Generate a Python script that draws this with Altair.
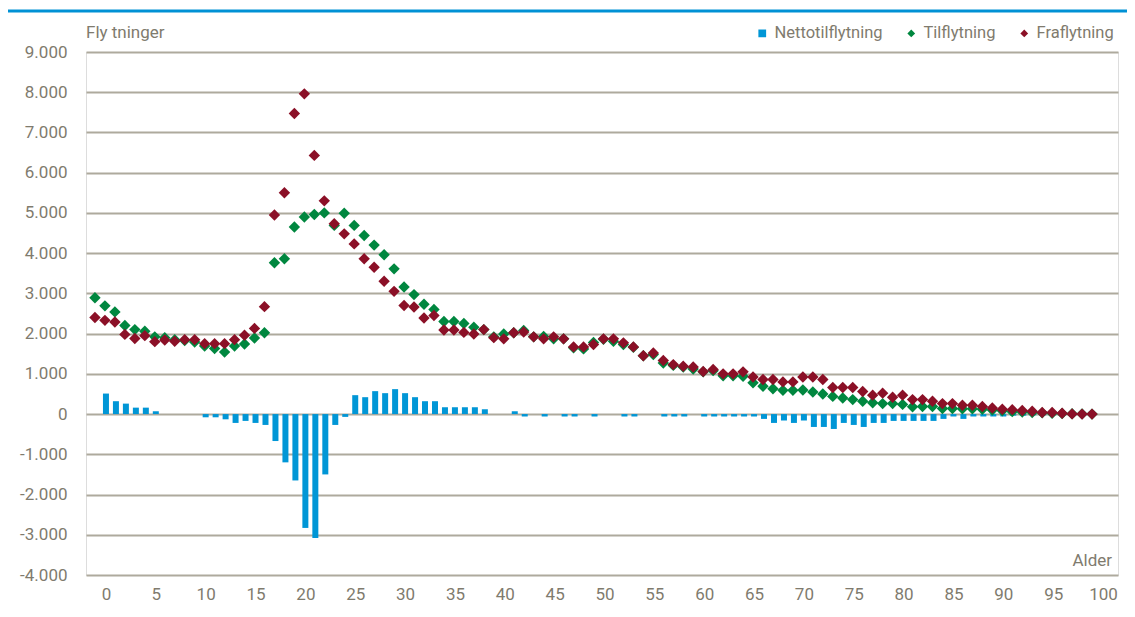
import altair as alt
import pandas as pd

ages = list(range(101))

netto = [510, 320, 260, 160, 160, 70, 0, 0, 0, 0,
         -80, -80, -130, -220, -170, -220, -270, -670, -1200, -1650,
         -2830, -3080, -1500, -270, -70, 470, 420, 570, 520, 620,
         520, 420, 320, 320, 170, 170, 170, 170, 120, 0,
         0, 70, -60, 0, -60, 0, -60, -60, 0, -60,
         0, 0, -60, -60, 0, 0, -60, -60, -60, 0,
         -60, -60, -60, -60, -60, -60, -120, -220, -160, -220,
         -160, -320, -320, -370, -220, -270, -320, -220, -220, -170,
         -170, -170, -170, -170, -120, -60, -120, -60, -60, -60,
         -60, -40, -40, -30, -30, -20, -20, -10, -10, -5,
         0]

til = [2890, 2690, 2540, 2200, 2100, 2060, 1920, 1900, 1850, 1830,
       1790, 1690, 1630, 1540, 1690, 1740, 1890, 2020, 3760, 3860,
       4650, 4900, 4960, 5000, 4690, 4990, 4690, 4440, 4200, 3960,
       3610, 3160, 2970, 2730, 2600, 2300, 2300, 2250, 2160, 2100,
       1920, 1990, 2020, 2080, 1920, 1930, 1870, 1870, 1650, 1620,
       1780, 1860, 1810, 1730, 1660, 1450, 1480, 1270, 1210, 1170,
       1120, 1050, 1080, 950, 950, 940, 780, 690, 630, 590,
       590, 600, 550, 500, 440, 400, 360, 320, 280, 260,
       260, 240, 180, 190, 190, 140, 140, 130, 130, 120,
       100, 80, 60, 50, 40, 30, 20, 15, 10, 5,
       0]

fra = [2400, 2330, 2290, 1980, 1880, 1950, 1800, 1840, 1810, 1850,
       1850, 1750, 1750, 1750, 1850, 1960, 2130, 2670, 4950, 5500,
       7470, 7960, 6430, 5300, 4730, 4480, 4230, 3860, 3650, 3300,
       3050, 2700, 2660, 2390, 2450, 2090, 2090, 2030, 1990, 2100,
       1900, 1870, 2020, 2040, 1920, 1870, 1920, 1870, 1670, 1670,
       1730, 1870, 1870, 1770, 1670, 1450, 1520, 1330, 1230, 1190,
       1170, 1060, 1110, 1000, 1000, 1050, 920, 860, 860, 800,
       800, 920, 920, 860, 660, 660, 660, 560, 470, 520,
       420, 470, 360, 360, 320, 260, 260, 220, 220, 190,
       150, 120, 110, 90, 70, 40, 40, 20, 5, 0,
       0]

series_names = ["Nettotilflytning", "Tilflytning", "Fraflytning"]
series_colors = ["#0096D6", "#00873F", "#8B1027"]
series_shapes = ["square", "diamond", "diamond"]
y_ticks = list(range(-4000, 9001, 1000))
x_ticks = list(range(0, 101, 5))

df = pd.DataFrame({
    "Alder": ages * 3,
    "Serie": [series_names[0]] * len(ages) + [series_names[1]] * len(ages) + [series_names[2]] * len(ages),
    "Verdi": netto + til + fra,
})

FONT = "Roboto, Liberation Sans, sans-serif"
GREY = "#7F7B6E"
GRID = "#AEAA9D"
FS = 17

x_enc = alt.X(
    "Alder:Q",
    scale=alt.Scale(domain=[-1.5, 101], nice=False, zero=False),
    axis=alt.Axis(values=x_ticks, title=None, grid=False, domain=False, ticks=False,
                  labelPadding=11, labelFontSize=FS, labelColor=GREY, labelFont=FONT,
                  labelFlush=False),
)
y_enc = alt.Y(
    "Verdi:Q",
    scale=alt.Scale(domain=[-4000, 9000], nice=False),
    axis=alt.Axis(values=y_ticks, title=None, domain=False, ticks=False, grid=True,
                  gridColor=GRID, gridWidth=2, labelPadding=19, labelFontSize=FS,
                  labelColor=GREY, labelFont=FONT,
                  labelExpr="(datum.value < 0 ? '-' : '') + replace(format(abs(datum.value), ','), ',', '.')"),
)

leg = alt.Legend(orient="none", legendX=668, legendY=-27, direction="horizontal",
                 title=None, labelFont=FONT, labelFontSize=16.5, labelColor=GREY,
                 symbolSize=60, symbolStrokeWidth=0, labelOffset=4, columnPadding=20)

color_enc = alt.Color("Serie:N", scale=alt.Scale(domain=series_names, range=series_colors), legend=leg)
shape_enc = alt.Shape("Serie:N", scale=alt.Scale(domain=series_names, range=series_shapes), legend=leg)

base = alt.Chart(df)

bars = base.transform_filter(alt.datum.Serie == series_names[0]).mark_bar(size=6).encode(
    x=x_enc, y=y_enc, color=color_enc, shape=shape_enc
)

points = base.transform_filter(alt.datum.Serie != series_names[0]).mark_point(
    filled=True, size=130, opacity=1, xOffset=-11, strokeWidth=0
).encode(x=x_enc, y=y_enc, color=color_enc, shape=shape_enc)

top_line = alt.Chart(pd.DataFrame({"k": [0]})).mark_rule(color="#0091D5", strokeWidth=3).encode(
    x=alt.value(-81), x2=alt.value(1041), y=alt.value(-41)
)

y_title = alt.Chart(pd.DataFrame({"t": ["Fly tninger"]})).mark_text(
    align="left", baseline="middle", font=FONT, fontSize=FS, color=GREY
).encode(text="t:N", x=alt.value(0), y=alt.value(-19))

x_title = alt.Chart(pd.DataFrame({"t": ["Alder"]})).mark_text(
    align="right", baseline="middle", font=FONT, fontSize=FS, color=GREY
).encode(text="t:N", x=alt.value(1026), y=alt.value(509))

chart = alt.layer(bars, points, top_line, y_title, x_title).properties(
    width=1032, height=523,
    padding={"left": 78, "top": 44, "right": 9, "bottom": 29},
    autosize=alt.AutoSizeParams(type="none"),
).configure_view(stroke=None).configure(background="white")

chart.save("out.html", embed_options={"renderer": "svg", "actions": False})
